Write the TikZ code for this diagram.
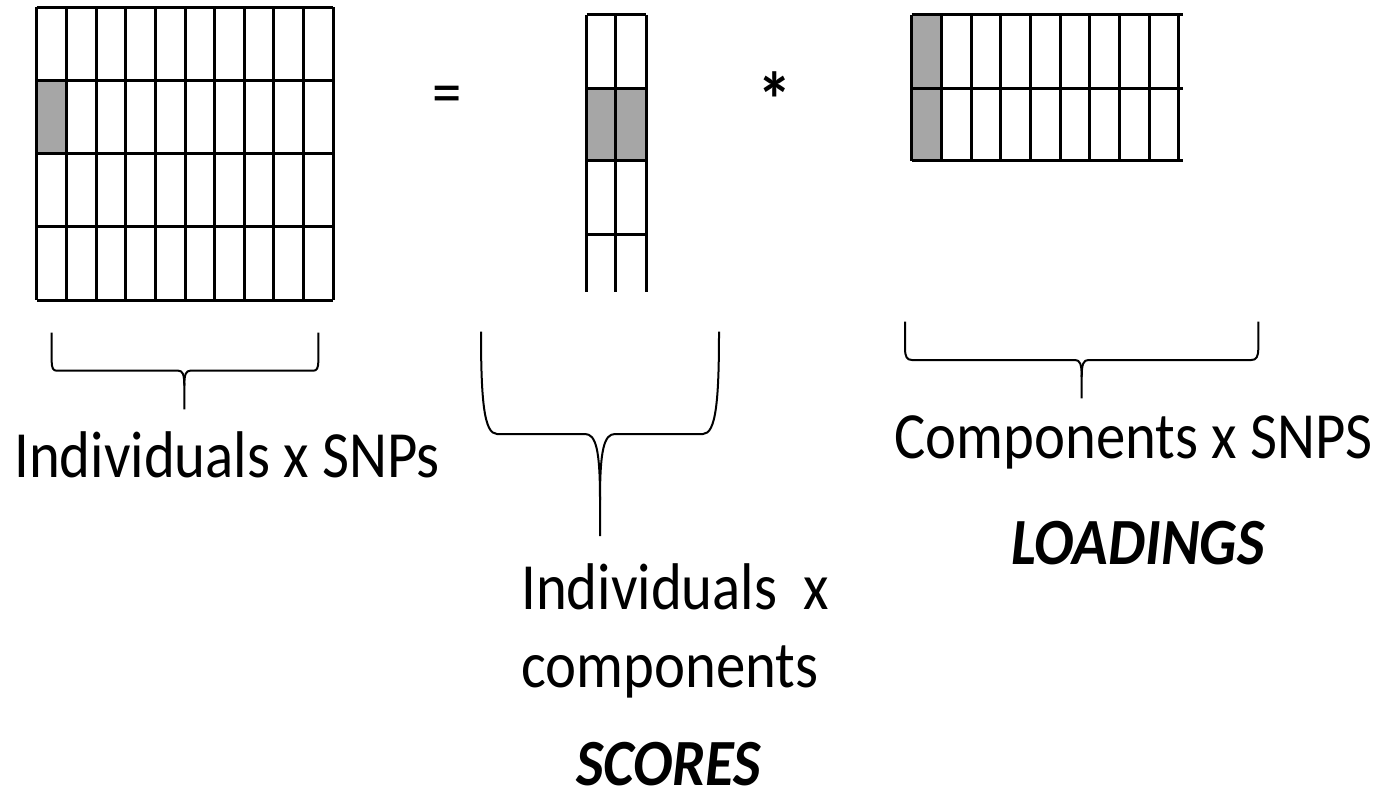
\documentclass[tikz,border=0pt]{standalone}
\usepackage{graphicx}
\usepackage{fontspec}
\setmainfont{Carlito}
\newcommand\narrowtext[1]{\scalebox{0.89}[1]{#1}}
\tikzset{
  gridline/.style={line width=3pt, black},
  cellfill/.style={fill=black!35},
  bracestyle/.style={line width=2pt, black, line join=round},
  label/.style={inner sep=0pt, anchor=base west, font=\fontsize{66}{80}\selectfont},
  boldlabel/.style={label, font=\fontsize{66}{80}\selectfont\bfseries\itshape},
  oplabel/.style={label, font=\fontsize{78}{90}\selectfont\bfseries},
}
\begin{document}
\begin{tikzpicture}[x=1pt, y=-1pt]
\useasboundingbox (0,0) rectangle (1378,797);

% ---- data matrix: individuals x SNPs (10 columns, 4 rows) ----
\fill[cellfill] (36.7,80.5) rectangle (66.4,153.8);
\foreach \i in {0,...,10}
  \draw[gridline] ({36.7+\i*29.66},7.3) -- ({36.7+\i*29.66},300);
\foreach \j in {0,...,4}
  \draw[gridline] (36.7,{7.3+\j*73.18}) -- (333.3,{7.3+\j*73.18});

% ---- scores: individuals x components (open at the bottom) ----
\fill[cellfill] (586.7,88.3) rectangle (646,160.7);
\foreach \x in {586.7,615.7,646}
  \draw[gridline] (\x,15) -- (\x,291.7);
\foreach \y in {15,88.3,160.7,234}
  \draw[gridline] (586.7,\y) -- (646,\y);

% ---- loadings: components x SNPs (open on the right) ----
\fill[cellfill] (911.7,15) rectangle (940.7,160.7);
\foreach \i in {0,...,9}
  \draw[gridline] ({911.7+\i*29.67},15) -- ({911.7+\i*29.67},160.7);
\foreach \y in {15,88.3,160.7}
  \draw[gridline] (911.7,\y) -- (1183,\y);

% ---- operators ----
\node[label] (eq) at (432,115) {\narrowtext{=}};
\node[oplabel] (times) at (757,128) {\narrowtext{*}};

% ---- braces ----
\draw[bracestyle] (51.7,332.7) -- (51.7,360.7) .. controls (51.7,368) and (53,370.7) .. (56.7,370.7)
  -- (178.3,370.7) .. controls (182.5,370.7) and (184.3,374) .. (184.3,385.7) -- (184.3,409.3);
\draw[bracestyle] (318.3,332.7) -- (318.3,360.7) .. controls (318.3,368) and (317,370.7) .. (313.3,370.7)
  -- (190.3,370.7) .. controls (186.1,370.7) and (184.3,374) .. (184.3,385.7);

\draw[bracestyle] (481,331.7) .. controls (481,400) and (484,434) .. (497,434)
  -- (585,434) .. controls (596,434) and (600,450) .. (600,500) -- (600,536);
\draw[bracestyle] (719,331.7) .. controls (719,400) and (716,434) .. (703,434)
  -- (615,434) .. controls (604,434) and (600,450) .. (600,500);

\draw[bracestyle] (905,321.7) -- (905,348) .. controls (905,357) and (907,360) .. (912,360)
  -- (1075,360) .. controls (1080,360) and (1081.7,364) .. (1081.7,377) -- (1081.7,398.3);
\draw[bracestyle] (1258.3,321.7) -- (1258.3,348) .. controls (1258.3,357) and (1256.3,360) .. (1251.3,360)
  -- (1088.4,360) .. controls (1083.4,360) and (1081.7,364) .. (1081.7,377);

% ---- labels ----
\node[label] (datalabel) at (14,477) {\narrowtext{Individuals x SNPs}};
\node[label] (scorelabel1) at (521,609) {\narrowtext{Individuals\ \ x}};
\node[label] (scorelabel2) at (521,687) {\narrowtext{components}};
\node[boldlabel] (scores) at (576,785) {\narrowtext{SCORES}};
\node[label] (loadlabel) at (894,458) {\narrowtext{Components x SNPS}};
\node[boldlabel] (loadings) at (1011,564) {\narrowtext{LOADINGS}};
\end{tikzpicture}
\end{document}
